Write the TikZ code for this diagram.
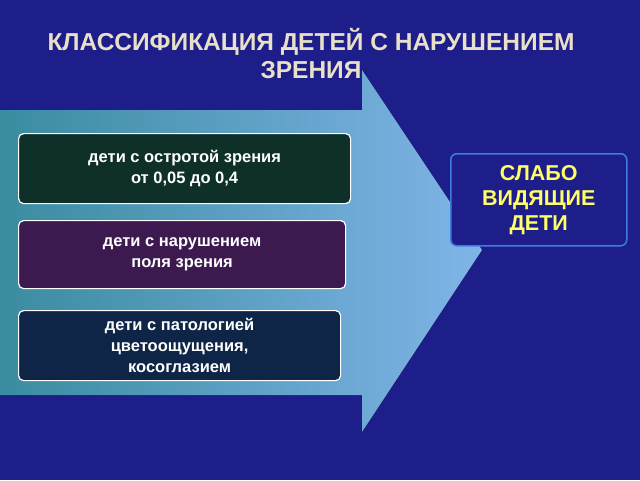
\documentclass[tikz,border=0pt]{standalone}
\usepackage{fontspec}
\setmainfont{Liberation Sans}
\definecolor{bg}{HTML}{1E1E8A}
\definecolor{titlec}{HTML}{E8E0C8}
\definecolor{boxa}{HTML}{0F3028}
\definecolor{boxb}{HTML}{3C1A50}
\definecolor{boxc}{HTML}{0E2548}
\definecolor{arrl}{HTML}{3A8CA0}
\definecolor{arrr}{HTML}{80B4E8}
\definecolor{rborder}{HTML}{3C7EE0}
\definecolor{ytext}{HTML}{FFFF66}
\tikzset{
 catbox/.style={draw=white, line width=1.2pt, rounded corners=5pt, text=white, font=\bfseries\fontsize{16.5}{21}\selectfont, align=center, anchor=north west, inner sep=0pt},
}
\begin{document}
\begin{tikzpicture}[x=1pt,y=-1pt]
\fill[bg] (0,0) rectangle (640,480);
\useasboundingbox (0,0) rectangle (640,480);
\node[text=titlec, font=\bfseries\fontsize{24.5}{28}\selectfont, align=center] (title) at (311,54) {КЛАССИФИКАЦИЯ ДЕТЕЙ С НАРУШЕНИЕМ\\ЗРЕНИЯ};
\fill[left color=arrl, right color=arrr] (0,110) -- (362,110) -- (362,70) -- (482,250) -- (362,432) -- (362,395) -- (0,395) -- cycle;
\node[catbox, fill=boxa, minimum width=332pt, minimum height=70pt] (b1) at (18,133) {дети с остротой зрения\\от 0,05 до 0,4};
\node[catbox, fill=boxb, minimum width=327pt, minimum height=68pt] (b2) at (18,220) {дети с нарушением\\поля зрения};
\node[catbox, fill=boxc, minimum width=322pt, minimum height=70pt] (b3) at (18,310) {дети с патологией\\цветоощущения,\\косоглазием};
\node[draw=rborder, line width=1.5pt, rounded corners=6pt, fill=bg, text=ytext, font=\bfseries\fontsize{21.5}{25}\selectfont, align=center, minimum width=176pt, minimum height=92pt, anchor=north west, inner sep=0pt] (r) at (450,153) {СЛАБО\\ВИДЯЩИЕ\\ДЕТИ};
\end{tikzpicture}
\end{document}
